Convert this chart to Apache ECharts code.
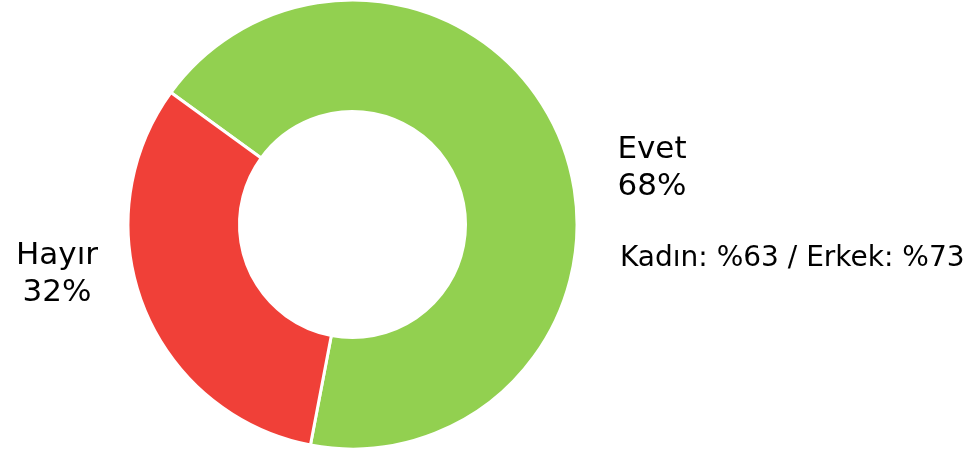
<!DOCTYPE html>
<html>
<head>
<meta charset="utf-8">
<script src="https://cdn.jsdelivr.net/npm/echarts@6/dist/echarts.min.js"></script>
<style>
  html, body { margin: 0; padding: 0; background: #fff; }
  #chart { width: 969px; height: 449px; }
</style>
</head>
<body>
<div id="chart"></div>
<script>
  // answers and their shares (%)
  var categories = ['Evet', 'Hayır'];
  var shares = [68, 32];
  var colors = ['#92D050', '#F04038'];
  var note = 'Kadın: %63 / Erkek: %73';

  // label centres for each slice
  var labelPos = [[652, 168], [57, 274]];

  var chart = echarts.init(document.getElementById('chart'));

  var pieData = categories.map(function (name, i) {
    return { name: name, value: shares[i], itemStyle: { color: colors[i] } };
  });

  chart.setOption({
    animation: false,
    textStyle: { fontFamily: 'DejaVu Sans' },
    series: [{
      type: 'pie',
      center: [352.5, 224.5],
      radius: [113, 224.5],
      startAngle: 144,
      clockwise: true,
      avoidLabelOverlap: false,
      itemStyle: { borderColor: '#fff', borderWidth: 3 },
      label: {
        show: true,
        position: 'outside',
        formatter: '{b}\n{c}%',
        fontSize: 31,
        lineHeight: 37,
        color: '#000',
        fontFamily: 'DejaVu Sans',
        align: 'center'
      },
      labelLine: { show: false },
      labelLayout: function (params) {
        var p = labelPos[params.dataIndex];
        return { x: p[0], y: p[1], align: 'center', verticalAlign: 'middle' };
      },
      emphasis: { disabled: true },
      data: pieData
    }],
    graphic: [{
      type: 'text',
      x: 620,
      y: 259,
      style: {
        text: note,
        fontSize: 28,
        fontFamily: 'DejaVu Sans',
        fill: '#000',
        verticalAlign: 'middle'
      }
    }]
  });
</script>
</body>
</html>
